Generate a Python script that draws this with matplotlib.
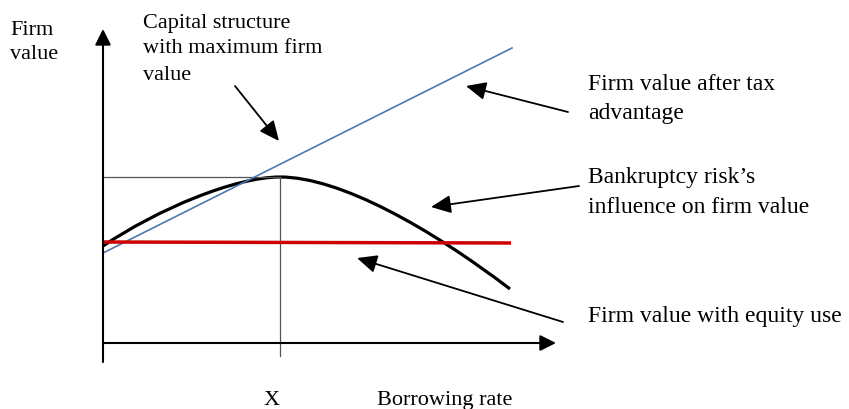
import matplotlib
matplotlib.use('Agg')
import matplotlib.pyplot as plt
from matplotlib.path import Path
from matplotlib.patches import PathPatch

# diagram drawn in picture coordinates (x right, y down)
# bankruptcy curve as two cubic Bezier pieces: rise to the peak, then fall
rise_nodes = [(103, 247), (158, 210), (235, 178), (280, 178)]
fall_nodes = [(280, 178), (340, 178), (430, 229), (510, 290)]

tax_x = [103, 512]
tax_y = [254, 49]

equity_x = [103, 511]
equity_y = [243, 244]

peak_x = 280
peak_y = 178

# pointer arrows: (start, tip)
pointers = [
    ((235, 87), (279, 142)),
    ((568, 113), (466, 87)),
    ((579, 187), (431, 208)),
    ((563, 323), (357, 259)),
]

# text lines: (x, baseline y, text, size)
labels = [
    (10, 35, 'Firm', 16),
    (10, 59, 'value', 16),
    (143, 28, 'Capital structure', 16),
    (143, 53, 'with maximum firm', 16),
    (143, 80, 'value', 16),
    (588, 90, 'Firm value after tax', 17),
    (588, 119, 'advantage', 17),
    (588, 183, 'Bankruptcy risk\u2019s', 17),
    (588, 213, 'influence on firm value', 17),
    (588, 322, 'Firm value with equity use', 17),
    (264, 405, 'X', 16),
    (377, 405, 'Borrowing rate', 16),
]

fig = plt.figure(figsize=(8.49, 4.10), dpi=100)
ax = fig.add_axes([0, 0, 1, 1])
ax.set_xlim(0, 849)
ax.set_ylim(410, 0)
ax.axis('off')

# axes with arrow heads
ax.annotate('', xy=(103, 30), xytext=(103, 363),
            arrowprops=dict(arrowstyle='-|>', color='black', lw=1.5,
                            mutation_scale=24, shrinkA=0, shrinkB=0))
ax.annotate('', xy=(556, 344), xytext=(103, 344),
            arrowprops=dict(arrowstyle='-|>', color='black', lw=1.5,
                            mutation_scale=24, shrinkA=0, shrinkB=0))

# guide lines to the optimum
ax.plot([103, peak_x], [peak_y, peak_y], color='#555555', lw=0.9)
ax.plot([peak_x, peak_x], [peak_y, 357], color='#555555', lw=0.9)

ax.plot(tax_x, tax_y, color='#4f78ad', lw=1.2)
ax.plot(equity_x, equity_y, color='#cc0000', lw=2.5, solid_capstyle='butt')

codes = [Path.MOVETO, Path.CURVE4, Path.CURVE4, Path.CURVE4,
         Path.CURVE4, Path.CURVE4, Path.CURVE4]
verts = rise_nodes + fall_nodes[1:]
ax.add_patch(PathPatch(Path(verts, codes), facecolor='none',
                       edgecolor='black', lw=2.3))

for start, tip in pointers:
    ax.annotate('', xy=tip, xytext=start,
                arrowprops=dict(arrowstyle='-|>,head_length=0.55,head_width=0.25',
                                color='black', lw=1.3,
                                mutation_scale=22, shrinkA=0, shrinkB=0))

for x, y, t, s in labels:
    ax.text(x, y, t, fontsize=s, family='Liberation Serif',
            ha='left', va='baseline', color='black')

fig.savefig('out.png', dpi=100)
